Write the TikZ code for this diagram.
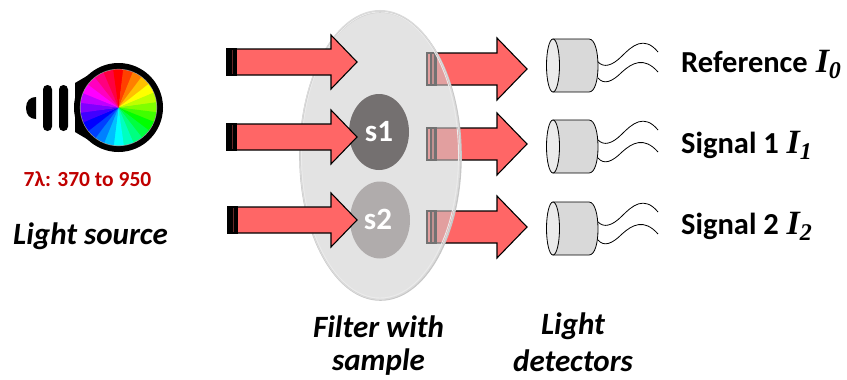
\documentclass[tikz,border=0pt]{standalone}
\usepackage{fontspec}
\setmainfont{Carlito}
\newfontfamily\serifbi{Liberation Serif}
\usetikzlibrary{calc}
\definecolor{arrowred}{HTML}{FF6666}
\tikzset{
  x=1pt,y=-1pt,
  redarrow/.style={draw=black,line width=1.1pt,fill=arrowred,line join=miter},
  stripe/.style={draw=black,line width=1.1pt,fill=#1},
  lab/.style={font=\fontsize{#1}{#1}\selectfont\bfseries,inner sep=0pt,text=black},
  caption/.style={font=\fontsize{31}{37}\selectfont\bfseries\itshape,align=center,inner sep=0pt},
  samplelabel/.style={font=\fontsize{31}{31}\selectfont\bfseries,text=white,inner sep=0pt},
  detbody/.style={draw=black,line width=0.8pt,fill=black!15},
  detface/.style={draw=black,line width=0.8pt,fill=black!8},
  wire/.style={draw=black,line width=0.8pt}
}
\newcommand{\intens}[2]{{\serifbi\fontsize{34}{34}\selectfont\bfseries\itshape\hspace{1pt}#1\raisebox{-6pt}{\fontsize{24}{24}\selectfont #2}}}
\newcommand{\arrowin}[2]{%
  \path[redarrow] (#1+9,#2-13) -- (331,#2-13) -- (331,#2-27) -- (357,#2) -- (331,#2+27) -- (331,#2+13) -- (#1+9,#2+13) -- cycle;
  \path[stripe=black] (#1,#2-13) rectangle (#1+4,#2+13);
  \path[stripe=black!60!arrowred] (#1+4,#2-13) rectangle (#1+7,#2+13);
  \path[stripe=black] (#1+7,#2-13) rectangle (#1+9,#2+13);
}
\newcommand{\arrowout}[1]{%
  \path[redarrow] (436,#1-16) -- (497,#1-16) -- (497,#1-31) -- (527,#1) -- (497,#1+31) -- (497,#1+16) -- (436,#1+16) -- cycle;
  \path[stripe=arrowred] (427,#1-16) rectangle (436,#1+16);
  \path[stripe=black!30!arrowred] (431,#1-16) rectangle (435,#1+16);
}
\newcommand{\detector}[3]{%
  \begin{scope}[yshift=-#1 pt]
    \path[detbody] (553,39) -- (589,39) .. controls (595,39) and (598,52) .. (598,66) .. controls (598,80) and (595,92) .. (589,92) -- (553,92) -- cycle;
    \path[detface] (553,65.5) ellipse [x radius=6.5,y radius=26.5];
    \path[wire] (598,#2) .. controls (604,#2+6) and (612,#2+4) .. (622,#2-6) .. controls (632,#2-16) and (644,#2-27) .. (658,#2-10);
    \path[wire] (598,#3) .. controls (604,#3+7) and (612,#3+4) .. (622,#3-6) .. controls (632,#3-15) and (644,#3-22) .. (658,#3-6);
  \end{scope}
}
\begin{document}
\begin{tikzpicture}
\useasboundingbox (0,0) rectangle (847,380);
% output arrows lie behind the filter
\arrowout{69}
\arrowout{144}
\arrowout{227}
% filter: soft shadow rim, translucent body, pale rim
\path[draw=black!22,line width=1.6pt] (380.5,156) ellipse [x radius=80.5,y radius=144];
\path[fill={rgb,255:red,205;green,205;blue,205},fill opacity=.56,draw=black!14,line width=1pt] (380,155) ellipse [x radius=80,y radius=144.5];
\path[draw=white!92!black,line width=0.9pt] (380,155) ellipse [x radius=78.5,y radius=143];
% samples
\path[fill={rgb,255:red,116;green,112;blue,112}] (379,132) ellipse [x radius=30,y radius=38];
\path[fill={rgb,255:red,176;green,172;blue,172}] (380,220) ellipse [x radius=30,y radius=38.5];
\node[samplelabel] (s1) at (379,132) {s1};
\node[samplelabel] (s2) at (378,219) {s2};
% input arrows
\arrowin{227}{62}
\arrowin{227}{137}
\arrowin{228}{220}
% lamp
\path[fill=black] (26,108) .. controls (26,101) and (30,97) .. (36,97) -- (36,119) .. controls (30,119) and (26,115) .. (26,108) -- cycle;
\path[fill=black,rounded corners=4.4pt] (43,85) rectangle (52,131);
\path[fill=black,rounded corners=4.4pt] (59,85) rectangle (68,131);
\path[fill=black] (75,83) -- (92,73) -- (92,142) -- (75,132) -- cycle;
\path[fill=black] (118.5,107.5) circle [radius=44.5];
\path[fill=white!60!black] (118.5,107.5) circle [radius=38.6];
\foreach \h in {0,15,...,345}{
  \definecolor{wedgehsb}{Hsb}{\h,1,1}
  \colorlet{wedge}[rgb]{wedgehsb}
  \path[fill=wedge] (118.5,107.5) -- ({118.5+38*sin(\h-8)},{107.5-38*cos(\h-8)}) arc [start angle={\h-98},end angle={\h-82},radius=38] -- cycle;
}
\path[fill=red] (118.5,107.5) -- ({118.5+38*sin(-8)},{107.5-38*cos(-8)}) arc [start angle=-98,end angle=-85,radius=38] -- cycle;
% labels
\node[inner sep=0pt,text={rgb,255:red,192;green,0;blue,0},font=\fontsize{21.5}{21.5}\selectfont\bfseries] (range) at (87.5,179) {7λ: 370 to 950};
\node[caption] (source) at (90.5,236) {Light source};
\node[caption,font=\fontsize{31}{33}\selectfont\bfseries\itshape] (filter) at (378.5,346) {Filter with\\sample};
\node[caption] (detect) at (573,342) {Light\\detectors};
% detectors
\detector{0}{62}{78}
\detector{81}{59}{77}
\detector{163}{59}{77}
\node[lab=30.5,anchor=base west] (ref) at (681,72) {Reference \intens{I}{0}};
\node[lab=30.5,anchor=base west] (sig1) at (681,153) {Signal 1 \intens{I}{1}};
\node[lab=30.5,anchor=base west] (sig2) at (681,234) {Signal 2 \intens{I}{2}};
\end{tikzpicture}
\end{document}
